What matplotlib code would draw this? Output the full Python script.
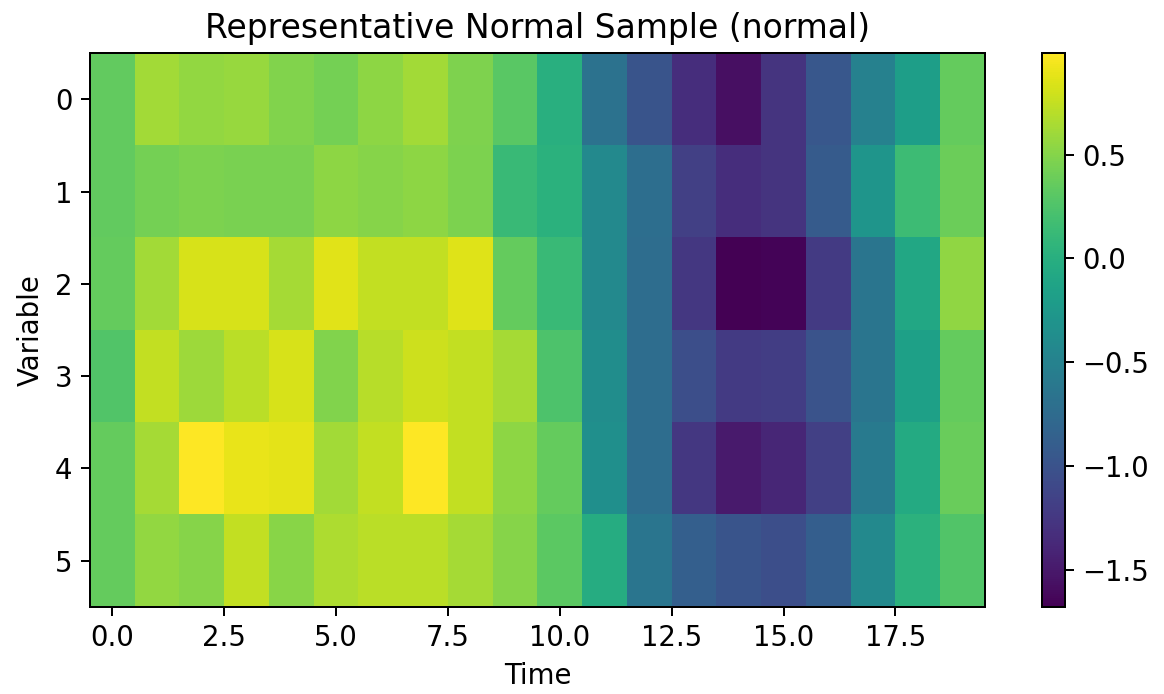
import numpy as np
import matplotlib
matplotlib.use("Agg")
import matplotlib.pyplot as plt

# one row per variable, 20 time steps
row0 = [0.35, 0.62, 0.56, 0.58, 0.48, 0.43, 0.54, 0.62, 0.47, 0.31,
        0.00, -0.67, -0.99, -1.33, -1.57, -1.28, -0.96, -0.51, -0.18, 0.36]
row1 = [0.35, 0.43, 0.46, 0.45, 0.45, 0.54, 0.51, 0.54, 0.46, 0.13,
        0.03, -0.42, -0.72, -1.17, -1.33, -1.28, -0.91, -0.29, 0.15, 0.39]
row2 = [0.36, 0.62, 0.83, 0.83, 0.63, 0.87, 0.74, 0.74, 0.86, 0.36,
        0.13, -0.42, -0.73, -1.25, -1.68, -1.65, -1.23, -0.64, -0.08, 0.55]
row3 = [0.27, 0.75, 0.60, 0.71, 0.83, 0.48, 0.70, 0.79, 0.75, 0.63,
        0.24, -0.37, -0.73, -1.04, -1.23, -1.20, -1.00, -0.64, -0.16, 0.36]
row4 = [0.36, 0.63, 0.99, 0.90, 0.88, 0.62, 0.75, 0.98, 0.75, 0.54,
        0.36, -0.35, -0.73, -1.25, -1.49, -1.39, -1.17, -0.59, -0.05, 0.38]
row5 = [0.36, 0.56, 0.51, 0.75, 0.52, 0.66, 0.71, 0.71, 0.63, 0.51,
        0.32, -0.03, -0.64, -0.87, -0.99, -1.04, -0.88, -0.42, 0.04, 0.27]

sample = np.array([row0, row1, row2, row3, row4, row5])

plt.rcParams["font.size"] = 11

fig = plt.figure(figsize=(1164 / 180, 694 / 180), dpi=180)
ax = fig.add_axes([0.0773, 0.1254, 0.7689, 0.7982])
cax = fig.add_axes([0.8952, 0.1254, 0.0198, 0.7982])

im = ax.imshow(sample, aspect="auto", cmap="viridis")
fig.colorbar(im, cax=cax)

ax.set_title("Representative Normal Sample (normal)")
ax.set_xlabel("Time")
ax.set_ylabel("Variable")

fig.savefig("out.png", dpi=180)
